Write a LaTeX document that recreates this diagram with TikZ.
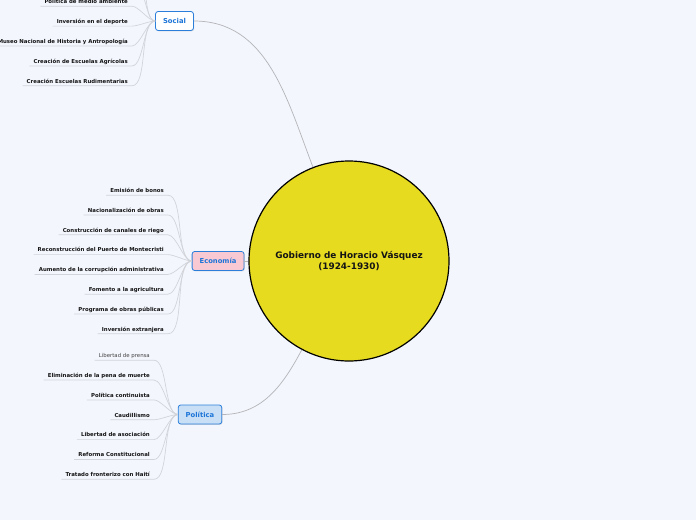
\documentclass[tikz,border=0pt]{standalone}
\usepackage{fontspec}
\setmainfont{DejaVu Sans}
\usetikzlibrary{positioning,shadows}
\definecolor{bgC}{HTML}{F3F6FD}
\definecolor{hubC}{HTML}{E6DB1F}
\definecolor{boxC}{HTML}{2B7FDB}
\definecolor{boxtxtC}{HTML}{1C74D8}
\definecolor{econC}{HTML}{F9C9D3}
\definecolor{poliC}{HTML}{C8DFF5}
\definecolor{linkC}{HTML}{B4B4B8}
\definecolor{twigC}{HTML}{D2D4DA}
\definecolor{darkC}{HTML}{141414}

\begin{document}
\begin{tikzpicture}[x=1pt, y=1pt,
  every node/.style={font=\bfseries, text=darkC},
  hubnode/.style={circle, draw=black, line width=1.2pt, fill=hubC,
                  minimum size=200pt, inner sep=0pt, align=center,
                  font=\bfseries\fontsize{8.9}{11}\selectfont},
  topicbox/.style={draw=boxC, fill=#1, line width=0.8pt, rounded corners=2.5pt,
                   minimum height=19pt, inner xsep=7.5pt, text=boxtxtC,
                   font=\bfseries\fontsize{6.8}{8}\selectfont,
                   drop shadow={opacity=0.25, shadow xshift=0.8pt, shadow yshift=-0.8pt}},
  leaf/.style={font=\bfseries\fontsize{5.4}{6}\selectfont, text height=4pt,
               text depth=1pt, inner xsep=4pt, inner ysep=1.5pt},
  plainleaf/.style={leaf, font=\mdseries\fontsize{5.4}{6}\selectfont, text=darkC!80},
  link/.style={draw=linkC, line width=0.7pt},
  twig/.style={draw=twigC, line width=0.7pt},
]
\path[use as bounding box, fill=bgC] (0,0) rectangle (696,-520);

% ── Central topic ──
\node[hubnode] (hub) at (349,-261) {Gobierno de Horacio Vásquez\\(1924-1930)};

% ── Main branches ──
\node[topicbox=white] (social) at (174.5,-21) {Social};
\node[topicbox=econC, left=4pt of hub] (econ) {Economía};
\node[topicbox=poliC] (poli) at (200,-414.5) {Política};

% ── Social ──
\coordinate (s0b) at (136,33);
\coordinate (s0a) at (136,13.5);
\node[leaf, anchor=east] (s1) at (132,-2) {Política de medio ambiente};
\node[leaf, below=11.5pt of s1.south east, anchor=north east] (s2) {Inversión en el deporte};
\node[leaf, below=11.5pt of s2.south east, anchor=north east] (s3) {Museo Nacional de Historia y Antropología};
\node[leaf, below=11.5pt of s3.south east, anchor=north east] (s4) {Creación de Escuelas Agrícolas};
\node[leaf, below=11.5pt of s4.south east, anchor=north east] (s5) {Creación Escuelas Rudimentarias};

% ── Economía ──
\node[leaf, anchor=east] (e1) at (168,-191) {Emisión de bonos};
\node[leaf, below=11.4pt of e1.south east, anchor=north east] (e2) {Nacionalización de obras};
\node[leaf, below=11.4pt of e2.south east, anchor=north east] (e3) {Construcción de canales de riego};
\node[leaf, below=11.4pt of e3.south east, anchor=north east] (e4) {Reconstrucción del Puerto de Montecristi};
\node[leaf, below=11.4pt of e4.south east, anchor=north east] (e5) {Aumento de la corrupción administrativa};
\node[leaf, below=11.4pt of e5.south east, anchor=north east] (e6) {Fomento a la agricultura};
\node[leaf, below=11.4pt of e6.south east, anchor=north east] (e7) {Programa de obras públicas};
\node[leaf, below=11.4pt of e7.south east, anchor=north east] (e8) {Inversión extranjera};

% ── Política ──
\node[plainleaf, anchor=east] (p1) at (154,-356) {Libertad de prensa};
\node[leaf, below=11.45pt of p1.south east, anchor=north east] (p2) {Eliminación de la pena de muerte};
\node[leaf, below=11.45pt of p2.south east, anchor=north east] (p3) {Política continuista};
\node[leaf, below=11.45pt of p3.south east, anchor=north east] (p4) {Caudillismo};
\node[leaf, below=11.45pt of p4.south east, anchor=north east] (p5) {Libertad de asociación};
\node[leaf, below=11.45pt of p5.south east, anchor=north east] (p6) {Reforma Constitucional};
\node[leaf, below=11.45pt of p6.south east, anchor=north east] (p7) {Tratado fronterizo con Haití};

% ── Links to the centre ──
\draw[link] (social.east) to[out=0, in=111] (hub.111);
\draw[link] (econ.east) -- (hub.west);
\draw[link] (poli.east) to[out=0, in=242] (hub.242);

% ── Leaf connectors ──
\draw[twig] (s0b) to[out=0, in=180, looseness=0.6] (social.west);
\draw[twig] (s0a) to[out=0, in=180, looseness=0.6] (social.west);
\draw[twig] (s1.south west) -- (s1.south east) to[out=0, in=180, looseness=0.6] (social.west);
\draw[twig] (s2.south west) -- (s2.south east) to[out=0, in=180, looseness=0.6] (social.west);
\draw[twig] (s3.south west) -- (s3.south east) to[out=0, in=180, looseness=0.6] (social.west);
\draw[twig] (s4.south west) -- (s4.south east) to[out=0, in=180, looseness=0.6] (social.west);
\draw[twig] (s5.south west) -- (s5.south east) to[out=0, in=180, looseness=0.6] (social.west);

\draw[twig] (e1.south west) -- (e1.south east) to[out=0, in=180, looseness=0.6] (econ.west);
\draw[twig] (e2.south west) -- (e2.south east) to[out=0, in=180, looseness=0.6] (econ.west);
\draw[twig] (e3.south west) -- (e3.south east) to[out=0, in=180, looseness=0.6] (econ.west);
\draw[twig] (e4.south west) -- (e4.south east) to[out=0, in=180, looseness=0.6] (econ.west);
\draw[twig] (e5.south west) -- (e5.south east) to[out=0, in=180, looseness=0.6] (econ.west);
\draw[twig] (e6.south west) -- (e6.south east) to[out=0, in=180, looseness=0.6] (econ.west);
\draw[twig] (e7.south west) -- (e7.south east) to[out=0, in=180, looseness=0.6] (econ.west);
\draw[twig] (e8.south west) -- (e8.south east) to[out=0, in=180, looseness=0.6] (econ.west);

\draw[twig] (p1.south west) -- (p1.south east) to[out=0, in=180, looseness=0.6] (poli.west);
\draw[twig] (p2.south west) -- (p2.south east) to[out=0, in=180, looseness=0.6] (poli.west);
\draw[twig] (p3.south west) -- (p3.south east) to[out=0, in=180, looseness=0.6] (poli.west);
\draw[twig] (p4.south west) -- (p4.south east) to[out=0, in=180, looseness=0.6] (poli.west);
\draw[twig] (p5.south west) -- (p5.south east) to[out=0, in=180, looseness=0.6] (poli.west);
\draw[twig] (p6.south west) -- (p6.south east) to[out=0, in=180, looseness=0.6] (poli.west);
\draw[twig] (p7.south west) -- (p7.south east) to[out=0, in=180, looseness=0.6] (poli.west);

\end{tikzpicture}
\end{document}
